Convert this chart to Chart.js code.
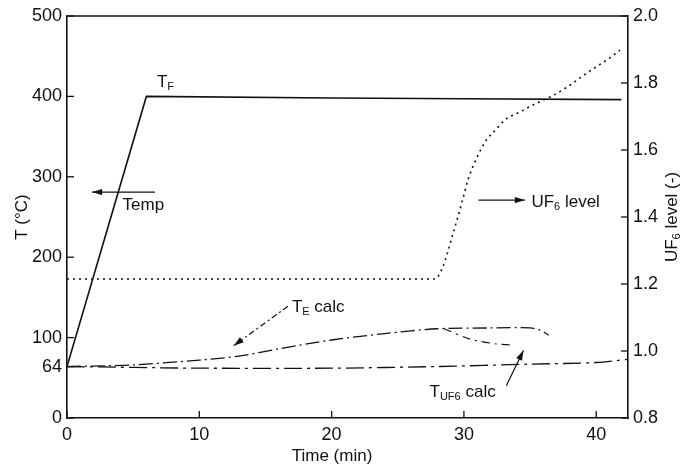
<!DOCTYPE html>
<html>
<head>
<meta charset="utf-8">
<script src="https://cdn.jsdelivr.net/npm/chart.js@4/dist/chart.umd.min.js"></script>
<style>
  html, body { margin: 0; padding: 0; background: #fff; }
  #wrap { width: 686px; height: 474px; }
</style>
</head>
<body>
<div id="wrap"><canvas id="c"></canvas></div>
<script>
// Axis tick values
const timeTicks = [0, 10, 20, 30, 40];
const tempTicks = [0, 64, 100, 200, 300, 400, 500];
const levelTicks = [0.8, 1.0, 1.2, 1.4, 1.6, 1.8, 2.0];

// Furnace temperature T_F (°C)
const tfTime = [0, 6, 20, 30, 41.9];
const tfTemp = [64, 400, 398, 397, 396];

// UF6 level (-), right axis
const levelTime  = [0, 27.8, 28.4, 29.1, 29.9, 30.3, 31.0, 31.7, 32.4, 33.1, 34.2, 35.5, 36.5, 37.8, 39.3, 40.8, 41.8];
const levelValue = [1.215, 1.215, 1.251, 1.340, 1.451, 1.510, 1.579, 1.630, 1.660, 1.690, 1.713, 1.740, 1.758, 1.788, 1.830, 1.869, 1.898];

// Calculated T_E (°C)
const teTime = [0, 3, 5, 10, 13, 16, 20, 24, 28, 32, 35, 35.8, 36.4];
const teTemp = [64, 65, 66, 72, 77, 86, 97, 105, 111, 112, 112, 109, 103];

// Second branch of the calculated curves
const branchTime = [28.5, 30.5, 32.5, 33.5];
const branchTemp = [111, 98, 92, 91];

// Calculated T_UF6 (°C)
const tuTime = [0, 10, 20, 28, 35, 40, 42.4];
const tuTemp = [64, 62, 62, 64, 67, 69, 73];

const FONT = "'Liberation Sans', Arial, Helvetica, sans-serif";
const INK = '#111';

const pts = (xs, ys) => xs.map((x, i) => ({ x, y: ys[i] }));

// Text with optional subscript pieces
function richText(ctx, parts, x, y, align) {
  let w = 0;
  parts.forEach(p => { ctx.font = p.size + 'px ' + FONT; w += ctx.measureText(p.t).width; });
  let cx = align === 'center' ? x - w / 2 : x;
  parts.forEach(p => {
    ctx.font = p.size + 'px ' + FONT;
    ctx.textAlign = 'left';
    ctx.textBaseline = 'alphabetic';
    ctx.fillText(p.t, cx, y + (p.dy || 0));
    cx += ctx.measureText(p.t).width;
  });
}

function arrow(ctx, x1, y1, x2, y2, dash) {
  ctx.save();
  ctx.strokeStyle = INK; ctx.fillStyle = INK; ctx.lineWidth = 1.2;
  ctx.setLineDash(dash || []);
  ctx.beginPath(); ctx.moveTo(x1, y1); ctx.lineTo(x2, y2); ctx.stroke();
  ctx.setLineDash([]);
  const a = Math.atan2(y2 - y1, x2 - x1), L = 10, W = 3.2;
  ctx.beginPath();
  ctx.moveTo(x2, y2);
  ctx.lineTo(x2 - L * Math.cos(a) + W * Math.sin(a), y2 - L * Math.sin(a) - W * Math.cos(a));
  ctx.lineTo(x2 - L * Math.cos(a) - W * Math.sin(a), y2 - L * Math.sin(a) + W * Math.cos(a));
  ctx.closePath(); ctx.fill();
  ctx.restore();
}

// Labels placed in data units
const labels = {
  tf:    { x: 6.8,  y: 412 },
  temp:  { x1: 6.65, x2: 1.9, y: 281, tx: 4.2, ty: 259 },
  level: { x1: 31.1, x2: 34.6, y: 271, tx: 35.1, ty: 262 },
  te:    { tx: 17.0, ty: 132, x1: 16.7, y1: 139, x2: 12.6, y2: 90 },
  tu:    { tx: 27.4, ty: 26, x1: 33.2, y1: 40, x2: 34.5, y2: 84 }
};

const decor = {
  id: 'decor',
  afterDatasetsDraw(chart) {
    const { ctx, chartArea: a, scales } = chart;
    const sx = scales.x, sy = scales.y, sr = scales.y1;
    ctx.save();
    ctx.strokeStyle = INK; ctx.lineWidth = 1.6;
    // top edge of the frame
    ctx.beginPath(); ctx.moveTo(a.left, a.top); ctx.lineTo(a.right, a.top); ctx.stroke();
    // inward tick marks
    ctx.lineWidth = 1.3;
    timeTicks.forEach(v => {
      const p = sx.getPixelForValue(v);
      ctx.beginPath(); ctx.moveTo(p, a.bottom); ctx.lineTo(p, a.bottom - 7); ctx.stroke();
    });
    tempTicks.forEach(v => {
      const p = sy.getPixelForValue(v);
      ctx.beginPath(); ctx.moveTo(a.left, p); ctx.lineTo(a.left + 7, p); ctx.stroke();
    });
    levelTicks.forEach(v => {
      const p = sr.getPixelForValue(v);
      ctx.beginPath(); ctx.moveTo(a.right, p); ctx.lineTo(a.right - 7, p); ctx.stroke();
    });

    ctx.fillStyle = INK;
    // axis titles
    richText(ctx, [{ t: 'Time (min)', size: 17 }], 332, 461, 'center');
    ctx.save();
    ctx.translate(27, (a.top + a.bottom) / 2);
    ctx.rotate(-Math.PI / 2);
    richText(ctx, [{ t: 'T (°C)', size: 17 }], 0, 0, 'center');
    ctx.restore();
    ctx.save();
    ctx.translate(677, (a.top + a.bottom) / 2);
    ctx.rotate(-Math.PI / 2);
    richText(ctx, [{ t: 'UF', size: 17 }, { t: '6', size: 11, dy: 3 }, { t: ' level (-)', size: 17 }], 0, 0, 'center');
    ctx.restore();

    const X = v => sx.getPixelForValue(v), Y = v => sy.getPixelForValue(v);
    // T_F
    richText(ctx, [{ t: 'T', size: 17 }, { t: 'F', size: 11, dy: 3 }], X(labels.tf.x), Y(labels.tf.y));
    // Temp arrow
    arrow(ctx, X(labels.temp.x1), Y(labels.temp.y), X(labels.temp.x2), Y(labels.temp.y));
    richText(ctx, [{ t: 'Temp', size: 17 }], X(labels.temp.tx), Y(labels.temp.ty));
    // UF6 level arrow
    arrow(ctx, X(labels.level.x1), Y(labels.level.y), X(labels.level.x2), Y(labels.level.y));
    richText(ctx, [{ t: 'UF', size: 17 }, { t: '6', size: 11, dy: 3 }, { t: ' level', size: 17 }], X(labels.level.tx), Y(labels.level.ty));
    // T_E calc
    richText(ctx, [{ t: 'T', size: 17 }, { t: 'E', size: 11, dy: 3 }, { t: ' calc', size: 17 }], X(labels.te.tx), Y(labels.te.ty));
    arrow(ctx, X(labels.te.x1), Y(labels.te.y1), X(labels.te.x2), Y(labels.te.y2), [6, 3, 2, 3]);
    // T_UF6 calc
    richText(ctx, [{ t: 'T', size: 17 }, { t: 'UF6', size: 11, dy: 3 }, { t: ' calc', size: 17 }], X(labels.tu.tx), Y(labels.tu.ty));
    arrow(ctx, X(labels.tu.x1), Y(labels.tu.y1), X(labels.tu.x2), Y(labels.tu.y2));
    ctx.restore();
  }
};

const tickFont = { family: FONT, size: 18 };

new Chart(document.getElementById('c'), {
  type: 'line',
  data: {
    datasets: [
      { label: 'T_F', data: pts(tfTime, tfTemp), yAxisID: 'y',
        borderColor: INK, borderWidth: 1.6, pointRadius: 0, tension: 0 },
      { label: 'UF6 level', data: pts(levelTime, levelValue), yAxisID: 'y1',
        borderColor: INK, borderWidth: 1.6, borderDash: [2, 4], pointRadius: 0,
        cubicInterpolationMode: 'monotone' },
      { label: 'T_E calc', data: pts(teTime, teTemp), yAxisID: 'y',
        borderColor: INK, borderWidth: 1.3, borderDash: [14, 4, 2, 4], pointRadius: 0, tension: 0.3 },
      { label: 'T_E calc (branch)', data: pts(branchTime, branchTemp), yAxisID: 'y',
        borderColor: INK, borderWidth: 1.2, borderDash: [8, 5, 2, 5], pointRadius: 0, tension: 0.3 },
      { label: 'T_UF6 calc', data: pts(tuTime, tuTemp), yAxisID: 'y',
        borderColor: INK, borderWidth: 1.3, borderDash: [18, 5, 3, 5], pointRadius: 0, tension: 0.3 }
    ]
  },
  options: {
    responsive: true,
    maintainAspectRatio: false,
    animation: false,
    devicePixelRatio: 1,
    layout: { padding: { top: 16, left: 0, right: 0, bottom: 0 } },
    plugins: { legend: { display: false }, tooltip: { enabled: false } },
    scales: {
      x: {
        type: 'linear', min: 0, max: 42.4,
        afterBuildTicks: s => { s.ticks = timeTicks.map(v => ({ value: v })); },
        afterFit: s => { s.height = 56; },
        grid: { display: false, drawTicks: false },
        border: { display: true, color: INK, width: 1.6 },
        ticks: { color: INK, font: tickFont, padding: 6, maxRotation: 0, autoSkip: false }
      },
      y: {
        type: 'linear', position: 'left', min: 0, max: 500,
        afterBuildTicks: s => { s.ticks = tempTicks.map(v => ({ value: v })); },
        afterFit: s => { s.width = 67; },
        grid: { display: false, drawTicks: false },
        border: { display: true, color: INK, width: 1.6 },
        ticks: { color: INK, font: tickFont, padding: 5, autoSkip: false }
      },
      y1: {
        type: 'linear', position: 'right', min: 0.8, max: 2.0,
        afterBuildTicks: s => { s.ticks = levelTicks.map(v => ({ value: v })); },
        afterFit: s => { s.width = 58; },
        grid: { display: false, drawTicks: false },
        border: { display: true, color: INK, width: 1.6 },
        ticks: { color: INK, font: tickFont, padding: 5, autoSkip: false,
                 callback: v => Number(v).toFixed(1) }
      }
    }
  },
  plugins: [decor]
});
</script>
</body>
</html>
